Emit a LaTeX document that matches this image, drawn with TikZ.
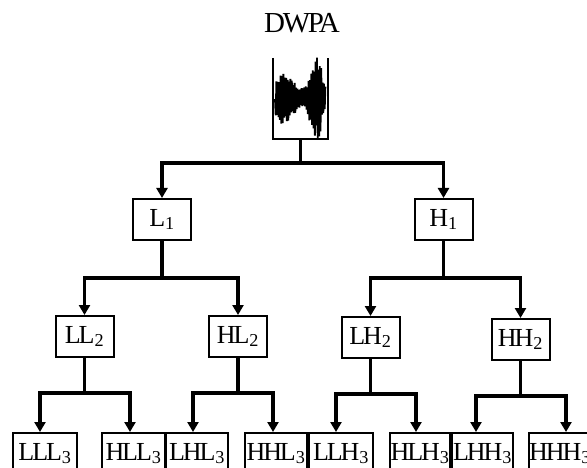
\documentclass[tikz,border=0pt]{standalone}
\usepackage{fontspec}
\setmainfont{Liberation Serif}[LetterSpace=-8]
\usetikzlibrary{arrows.meta}

\tikzset{
  box/.style={draw, line width=2pt, minimum width=58pt, minimum height=41pt,
              inner sep=0pt, font=\fontsize{26}{28}\selectfont},
  leaf/.style={box, minimum width=62pt},
  link/.style={line width=3.2pt, line join=miter},
  arr/.style={link, -{Triangle[width=11pt,length=10pt]}},
}
\newcommand\lbl[2]{#1\textsubscript{#2}}

\begin{document}
\begin{tikzpicture}[x=1pt,y=-1pt]
\useasboundingbox (0,0) rectangle (587,468);
\clip (0,0) rectangle (587,468);

% title
\node[font=\fontsize{29}{31}\selectfont] (title) at (302,23) {DWPA};

% input signal in an open-topped frame
\node[minimum width=55pt, minimum height=81pt, inner sep=0pt] (sig) at (300.5,98.5) {};
\draw[line width=2pt] (sig.north west) -- (sig.south west) -- (sig.south east) -- (sig.north east);
\pgfmathsetseed{11}
\draw[line width=1.8pt, line join=miter]
  (275,99) \foreach \i in {1,...,72} {
    -- ({275+\i*0.7},
        {98 + (2*mod(\i,2)-1)*(0.6+0.4*rnd)*(22*exp(-(((275+\i*0.7)-285)/11)^2) + 38*exp(-(((275+\i*0.7)-316)/7.5)^2) + 7)})
  };

% level 1
\node[box] (L1) at (162,219.5) {\lbl{L}{1}};
\node[box] (H1) at (443.5,219.5) {\lbl{H}{1}};

% level 2
\node[box] (LL2) at (84.5,336.5) {\lbl{LL}{2}};
\node[box] (HL2) at (238,336.5) {\lbl{HL}{2}};
\node[box] (LH2) at (370.5,337.5) {\lbl{LH}{2}};
\node[box] (HH2) at (520.5,339.5) {\lbl{HH}{2}};

% level 3
\node[leaf, minimum width=64pt] (LLL3) at (45,453.5) {\lbl{LLL}{3}};
\node[leaf, minimum width=63pt] (HLL3) at (133.5,453.5) {\lbl{HLL}{3}};
\node[leaf] (LHL3) at (197,453.5) {\lbl{LHL}{3}};
\node[leaf] (HHL3) at (276,453.5) {\lbl{HHL}{3}};
\node[leaf, minimum width=64pt] (LLH3) at (341,453.5) {\lbl{LLH}{3}};
\node[leaf, minimum width=60pt] (HLH3) at (420,453.5) {\lbl{HLH}{3}};
\node[leaf, minimum width=61pt] (LHH3) at (482.5,453.5) {\lbl{LHH}{3}};
\node[leaf] (HHH3) at (560,453.5) {\lbl{HHH}{3}};

% junction points of the splitting bars
\coordinate (j0) at (sig.south |- 0,163);
\coordinate (jL1) at (L1.south |- 0,278);
\coordinate (jH1) at (H1.south |- 0,278);
\coordinate (jLL2) at (LL2.south |- 0,393);
\coordinate (jHL2) at (HL2.south |- 0,393);
\coordinate (jLH2) at (LH2.south |- 0,394);
\coordinate (jHH2) at (HH2.south |- 0,396);

% connectors
\draw[arr] (sig.south) -- (j0) -| (L1.north);
\draw[arr] (j0) -| (H1.north);

\draw[arr] (L1.south) -- (jL1) -| (LL2.north);
\draw[arr] (jL1) -| (HL2.north);
\draw[arr] (H1.south) -- (jH1) -| (LH2.north);
\draw[arr] (jH1) -| (HH2.north);

\draw[arr] (LL2.south) -- (jLL2) -| ([xshift=-5pt]LLL3.north);
\draw[arr] (jLL2) -| ([xshift=-3.5pt]HLL3.north);
\draw[arr] (HL2.south) -- (jHL2) -| ([xshift=-4pt]LHL3.north);
\draw[arr] (jHL2) -| ([xshift=-3pt]HHL3.north);
\draw[arr] (LH2.south) -- (jLH2) -| ([xshift=-5pt]LLH3.north);
\draw[arr] (jLH2) -| ([xshift=-4pt]HLH3.north);
\draw[arr] (HH2.south) -- (jHH2) -| ([xshift=-6.5pt]LHH3.north);
\draw[arr] (jHH2) -| ([xshift=6pt]HHH3.north);
\end{tikzpicture}
\end{document}
